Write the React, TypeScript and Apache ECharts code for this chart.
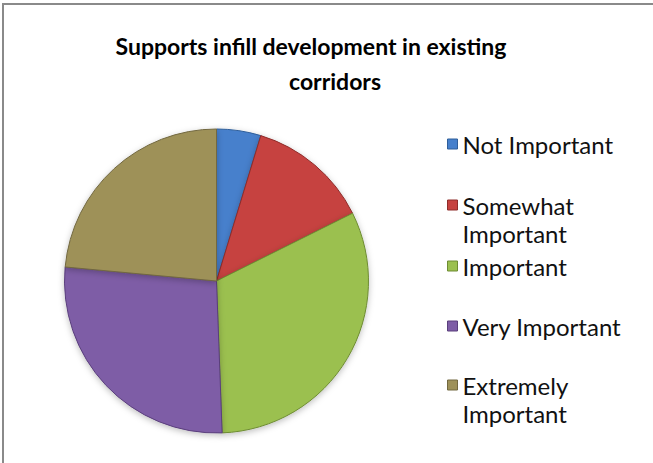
import React, { useEffect, useRef } from "react";
import * as echarts from "echarts";

const titleLines = ["Supports infill development in existing", "corridors"];
const categories = ["Not Important", "Somewhat Important", "Important", "Very Important", "Extremely Important"];
const values = [4, 11, 27, 23, 20];
const colors = ["#4680CC", "#C6423F", "#9BC04F", "#7E5DA6", "#9E9159"];
const borderColors = ["#2F5E9A", "#8E2C2A", "#6E8C33", "#5A3F7C", "#726840"];
const legendLabels = ["Not Important", "Somewhat\nImportant", "Important", "Very Important", "Extremely\nImportant"];

const legendTops = [130, 163, 252, 312, 343];
const titleCenters = [311, 335];
const titleTops = [31, 66];
const FONT = "Lato";

export default function App() {
  const ref = useRef<HTMLDivElement>(null);
  useEffect(() => {
    document.body.style.margin = "0";
    const chart = echarts.init(ref.current!, null, { renderer: "svg" });
    const legends = categories.map((name, i) => {
      const label = legendLabels[i];
      const multi = label.indexOf("\n") >= 0;
      return {
        data: [{ name, itemStyle: { color: colors[i], borderColor: borderColors[i], borderWidth: 1 } }],
        orient: "vertical",
        left: 447,
        top: legendTops[i],
        padding: 0,
        selectedMode: false,
        icon: "rect",
        itemWidth: 10,
        itemHeight: 10,
        formatter: () => (multi ? "\n" + label : label),
        textStyle: { fontFamily: FONT, fontSize: 24, color: "#111", lineHeight: 28 },
      };
    });
    chart.setOption({
      animation: false,
      backgroundColor: "#ffffff",
      title: titleLines.map((t, i) => ({
        text: t,
        left: titleCenters[i],
        top: titleTops[i],
        padding: 0,
        textAlign: "center",
        textStyle: { fontFamily: FONT, fontSize: 23, fontWeight: "bold", color: "#000", lineHeight: 30 },
      })),
      legend: legends,
      graphic: [
        {
          type: "polyline",
          shape: { points: [[3, 463], [3, 4], [653, 4]] },
          style: { stroke: "#8a8a8a", lineWidth: 2, fill: "none" },
          silent: true,
        },
      ],
      series: [
        {
          type: "pie",
          center: [216.5, 281],
          radius: 152,
          startAngle: 90,
          clockwise: true,
          label: { show: false },
          labelLine: { show: false },
          emphasis: { disabled: true },
          data: categories.map((name, i) => ({
            name,
            value: values[i],
            itemStyle: {
              color: colors[i],
              borderColor: borderColors[i],
              borderWidth: 1,
              shadowBlur: 6,
              shadowColor: "rgba(0,0,0,0.25)",
              shadowOffsetY: 2,
            },
          })),
        },
      ],
    });
    return () => chart.dispose();
  }, []);
  return <div ref={ref} style={{ width: 653, height: 463 }} />;
}
